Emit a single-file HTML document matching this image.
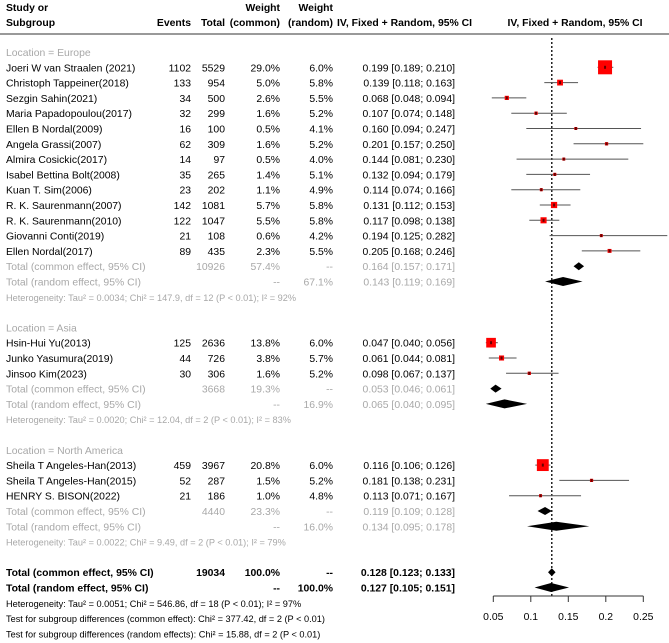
<!DOCTYPE html>
<html><head><meta charset="utf-8"><style>
body{margin:0;background:#fff}
svg{display:block;font-family:"Liberation Sans",Arial,sans-serif}
</style></head><body>
<svg id="plot" width="669" height="643" viewBox="0 0 669 643"></svg>
<script>
// ---- study data ----
const studyNames=["Joeri W van Straalen (2021)","Christoph Tappeiner(2018)","Sezgin Sahin(2021)","Maria Papadopoulou(2017)","Ellen B Nordal(2009)","Angela Grassi(2007)","Almira Cosickic(2017)","Isabel Bettina Bolt(2008)","Kuan T. Sim(2006)","R. K. Saurenmann(2007)","R. K. Saurenmann(2010)","Giovanni Conti(2019)","Ellen Nordal(2017)",
"Hsin-Hui Yu(2013)","Junko Yasumura(2019)","Jinsoo Kim(2023)",
"Sheila T Angeles-Han(2013)","Sheila T Angeles-Han(2015)","HENRY S. BISON(2022)"];
const studyGroup=[0,0,0,0,0,0,0,0,0,0,0,0,0,1,1,1,2,2,2];
const events=[1102,133,34,32,16,62,14,35,23,142,122,21,89,125,44,30,459,52,21];
const totals=[5529,954,500,299,100,309,97,265,202,1081,1047,108,435,2636,726,306,3967,287,186];
const wCommon=[29.0,5.0,2.6,1.6,0.5,1.6,0.5,1.4,1.1,5.7,5.5,0.6,2.3,13.8,3.8,1.6,20.8,1.5,1.0];
const wRandom=[6.0,5.8,5.5,5.2,4.1,5.2,4.0,5.1,4.9,5.8,5.8,4.2,5.5,6.0,5.7,5.2,6.0,5.2,4.8];
const est=[0.199,0.139,0.068,0.107,0.160,0.201,0.144,0.132,0.114,0.131,0.117,0.194,0.205,0.047,0.061,0.098,0.116,0.181,0.113];
const lo=[0.189,0.118,0.048,0.074,0.094,0.157,0.081,0.094,0.074,0.112,0.098,0.125,0.168,0.040,0.044,0.067,0.106,0.138,0.071];
const hi=[0.210,0.163,0.094,0.148,0.247,0.250,0.230,0.179,0.166,0.153,0.138,0.282,0.246,0.056,0.081,0.137,0.126,0.231,0.167];
// ---- subgroup data ----
const groupNames=["Europe","Asia","North America"];
const grpTotal=[10926,3668,4440];
const grpWCommon=[57.4,19.3,23.3];
const grpWRandom=[67.1,16.9,16.0];
const grpCommonEst=[0.164,0.053,0.119];
const grpCommonLo=[0.157,0.046,0.109];
const grpCommonHi=[0.171,0.061,0.128];
const grpRandomEst=[0.143,0.065,0.134];
const grpRandomLo=[0.119,0.040,0.095];
const grpRandomHi=[0.169,0.095,0.178];
const grpHet=["Heterogeneity: Tau\u00b2 = 0.0034; Chi\u00b2 = 147.9, df = 12 (P < 0.01); I\u00b2 = 92%","Heterogeneity: Tau\u00b2 = 0.0020; Chi\u00b2 = 12.04, df = 2 (P < 0.01); I\u00b2 = 83%","Heterogeneity: Tau\u00b2 = 0.0022; Chi\u00b2 = 9.49, df = 2 (P < 0.01); I\u00b2 = 79%"];
// ---- overall ----
const overallTotal=19034;
const overallCommon=[0.128,0.123,0.133];
const overallRandom=[0.127,0.105,0.151];
const footLines=["Heterogeneity: Tau\u00b2 = 0.0051; Chi\u00b2 = 546.86, df = 18 (P < 0.01); I\u00b2 = 97%","Test for subgroup differences (common effect): Chi\u00b2 = 377.42, df = 2 (P < 0.01)","Test for subgroup differences (random effects): Chi\u00b2 = 15.88, df = 2 (P < 0.01)"];
const ticks=[0.05,0.1,0.15,0.2,0.25];
const tickLabels=["0.05","0.1","0.15","0.2","0.25"];

const NS="http://www.w3.org/2000/svg";
const svg=document.getElementById("plot");
const X=v=>493.3+(v-0.05)*750;
const Y=i=>52+i*15.3;
const GRAY="#a8a8a8";
const FS=10.4;
function mk(tag,attrs,parent){const e=document.createElementNS(NS,tag);for(const k in attrs)e.setAttribute(k,attrs[k]);(parent||svg).appendChild(e);return e;}
function txt(s,x,y,opt){opt=opt||{};const e=mk("text",{x:x,y:y+4,"font-size":opt.size||FS,fill:opt.fill||"#000","text-anchor":opt.anchor||"start","font-weight":opt.bold?"bold":"normal"});e.textContent=s;return e;}
const f3=v=>v.toFixed(3);
const ci=(e,l,h)=>f3(e)+" ["+f3(l)+"; "+f3(h)+"]";

// header
let t;
t=txt("Study or",6,7,{bold:1});


t=txt("Subgroup",6,22,{bold:1});


t=txt("Events",191,22,{bold:1,anchor:"end"});


t=txt("Total",225,22,{bold:1,anchor:"end"});


t=txt("Weight",280,7,{bold:1,anchor:"end"});


t=txt("(common)",280,22,{bold:1,anchor:"end"});


t=txt("Weight",333,7,{bold:1,anchor:"end"});


t=txt("(random)",333,22,{bold:1,anchor:"end"});


t=txt("IV, Fixed + Random, 95% CI",337,22,{bold:1});


t=txt("IV, Fixed + Random, 95% CI",575,22,{bold:1,anchor:"middle"});


let ln=mk("line",{x1:0,y1:34,x2:669,y2:34,stroke:"#333","stroke-width":1});



// reference line
ln=mk("line",{x1:X(overallCommon[0]),y1:38,x2:X(overallCommon[0]),y2:596,stroke:"#000","stroke-width":1.3,"stroke-dasharray":"2,2"});



function diamond(e,l,h,y,hh,name){
  const p=mk("polygon",{points:X(l)+","+y+" "+X(e)+","+(y-hh)+" "+X(h)+","+y+" "+X(e)+","+(y+hh),fill:"#000"});
  
  
}

let row=0;
for(let g=0;g<3;g++){
  t=txt("Location = "+groupNames[g],6,Y(row),{fill:GRAY});
  
  
  row++;
  for(let i=0;i<studyNames.length;i++){
    if(studyGroup[i]!==g)continue;
    const y=Y(row);
    t=txt(studyNames[i],6,y);
    
    
    t=txt(String(events[i]),191,y,{anchor:"end"});
    
    
    t=txt(String(totals[i]),225,y,{anchor:"end"});
    
    
    t=txt(wCommon[i].toFixed(1)+"%",280,y,{anchor:"end"});
    
    
    t=txt(wRandom[i].toFixed(1)+"%",333,y,{anchor:"end"});
    
    
    t=txt(ci(est[i],lo[i],hi[i]),455,y,{anchor:"end"});
    
    
    const l=mk("line",{x1:X(lo[i]),y1:y,x2:X(hi[i]),y2:y,stroke:"#555","stroke-width":1});
    
    
    const s=Math.max(3,2.6*Math.sqrt(wCommon[i]));
    const r=mk("rect",{x:X(est[i])-s/2,y:y-s/2,width:s,height:s,fill:"#f00"});
    
    
    const c=mk("rect",{x:X(est[i])-1,y:y-1.5,width:2,height:3,fill:"#600"});
    
    
    row++;
  }
  let y=Y(row);
  t=txt("Total (common effect, 95% CI)",6,y,{fill:GRAY});
  
  
  t=txt(String(grpTotal[g]),225,y,{fill:GRAY,anchor:"end"});
  
  
  t=txt(grpWCommon[g].toFixed(1)+"%",280,y,{fill:GRAY,anchor:"end"});
  
  
  t=txt("--",333,y,{fill:GRAY,anchor:"end"});
  
  
  t=txt(ci(grpCommonEst[g],grpCommonLo[g],grpCommonHi[g]),455,y,{fill:GRAY,anchor:"end"});
  
  
  diamond(grpCommonEst[g],grpCommonLo[g],grpCommonHi[g],y,4,'subgroup-common-diamond');
  row++;
  y=Y(row);
  t=txt("Total (random effect, 95% CI)",6,y,{fill:GRAY});
  
  
  t=txt("--",280,y,{fill:GRAY,anchor:"end"});
  
  
  t=txt(grpWRandom[g].toFixed(1)+"%",333,y,{fill:GRAY,anchor:"end"});
  
  
  t=txt(ci(grpRandomEst[g],grpRandomLo[g],grpRandomHi[g]),455,y,{fill:GRAY,anchor:"end"});
  
  
  diamond(grpRandomEst[g],grpRandomLo[g],grpRandomHi[g],y,4.5,'subgroup-random-diamond');
  row++;
  t=txt(grpHet[g],6,Y(row),{fill:GRAY,size:9.2});
  
  
  row+=2;
}
let y=Y(row);
t=txt("Total (common effect, 95% CI)",6,y,{bold:1});


t=txt(String(overallTotal),225,y,{bold:1,anchor:"end"});


t=txt("100.0%",280,y,{bold:1,anchor:"end"});


t=txt("--",333,y,{bold:1,anchor:"end"});


t=txt(ci(overallCommon[0],overallCommon[1],overallCommon[2]),455,y,{bold:1,anchor:"end"});


diamond(overallCommon[0],overallCommon[1],overallCommon[2],y,4,'overall-common-diamond');
row++; y=Y(row);
t=txt("Total (random effect, 95% CI)",6,y,{bold:1});


t=txt("--",280,y,{bold:1,anchor:"end"});


t=txt("100.0%",333,y,{bold:1,anchor:"end"});


t=txt(ci(overallRandom[0],overallRandom[1],overallRandom[2]),455,y,{bold:1,anchor:"end"});


diamond(overallRandom[0],overallRandom[1],overallRandom[2],y,4.5,'overall-random-diamond');
row++;
for(let k=0;k<footLines.length;k++){
  t=txt(footLines[k],6,Y(row+k),{size:9.2});
  
  
}
// x axis
ln=mk("line",{x1:X(ticks[0]),y1:596,x2:X(ticks[ticks.length-1]),y2:596,stroke:"#333","stroke-width":1});


for(let k=0;k<ticks.length;k++){
  const tk=mk("line",{x1:X(ticks[k]),y1:596,x2:X(ticks[k]),y2:602,stroke:"#333","stroke-width":1});
  
  
  t=txt(tickLabels[k],X(ticks[k]),616,{anchor:"middle"});
  
  
}
</script>
</body></html>
